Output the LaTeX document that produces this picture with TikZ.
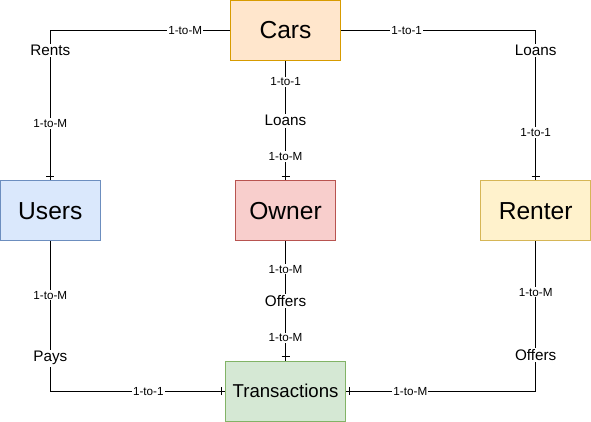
\documentclass[tikz,border=0pt]{standalone}
\usepackage{fontspec}
\setmainfont{Liberation Sans}
\usepackage{xcolor}
\usetikzlibrary{positioning,decorations.markings}

\definecolor{carsfill}{HTML}{FFE6CC}
\definecolor{carsline}{HTML}{D79B00}
\definecolor{usersfill}{HTML}{DAE8FC}
\definecolor{usersline}{HTML}{6C8EBF}
\definecolor{ownerfill}{HTML}{F8CECC}
\definecolor{ownerline}{HTML}{B85450}
\definecolor{renterfill}{HTML}{FFF2CC}
\definecolor{renterline}{HTML}{D6B656}
\definecolor{transfill}{HTML}{D5E8D4}
\definecolor{transline}{HTML}{82B366}

\begin{document}
\begin{tikzpicture}[
  entity/.style={
    rectangle,draw,line width=0.75pt,
    minimum width=75pt,minimum height=45pt,
    font=\fontsize{18.5}{22}\selectfont
  },
  rel/.style={
    line width=0.75pt,
    postaction={decorate,decoration={markings,
      mark=at position -3pt with {\draw[line width=0.75pt] (0,-3pt) -- (0,3pt);}}}
  },
  card/.style={fill=white,inner sep=0.8pt,font=\fontsize{8.8}{10}\selectfont},
  verb/.style={fill=white,inner sep=1.2pt,font=\fontsize{11.5}{13}\selectfont}
]

\node[entity, fill=carsfill, draw=carsline, minimum width=82.5pt] (cars) {Cars};
\node[entity, fill=ownerfill, draw=ownerline, below=90pt of cars] (owner) {Owner};
\node[entity, fill=usersfill, draw=usersline, left=101.25pt of owner] (users) {Users};
\node[entity, fill=renterfill, draw=renterline, minimum width=82.5pt, right=108.75pt of owner] (renter) {Renter};
\node[entity, fill=transfill, draw=transline, minimum width=90pt,
  font=\fontsize{14}{16}\selectfont, below=90pt of owner] (trans) {Transactions};

\useasboundingbox ([xshift=-213.75pt,yshift=22.5pt]cars.center) rectangle ([xshift=229.5pt,yshift=-293.25pt]cars.center);

% cars to users / renter / owner
\draw[rel] (cars.west) -| (users.north)
  node[card, pos=0.125] {1-to-M}
  node[verb, pos=0.567] {Rents}
  node[card, pos=0.81] {1-to-M};
\draw[rel] (cars.east) -| (renter.north)
  node[card, pos=0.169] {1-to-1}
  node[verb, pos=0.567] {Loans}
  node[card, pos=0.84] {1-to-1};
\draw[rel] (cars) -- (owner)
  node[card, pos=0.175] {1-to-1}
  node[verb, pos=0.5] {Loans}
  node[card, pos=0.8] {1-to-M};

% everything into transactions
\draw[rel] (owner) -- (trans)
  node[card, pos=0.233] {1-to-M}
  node[verb, pos=0.5] {Offers}
  node[card, pos=0.808] {1-to-M};
\draw[rel] (users.south) |- (trans.west)
  node[card, pos=0.18] {1-to-M}
  node[verb, pos=0.39] {Pays}
  node[card, pos=0.78] {1-to-1};
\draw[rel] (renter.south) |- (trans.east)
  node[card, pos=0.17] {1-to-M}
  node[verb, pos=0.38] {Offers}
  node[card, pos=0.83] {1-to-M};

\end{tikzpicture}
\end{document}
